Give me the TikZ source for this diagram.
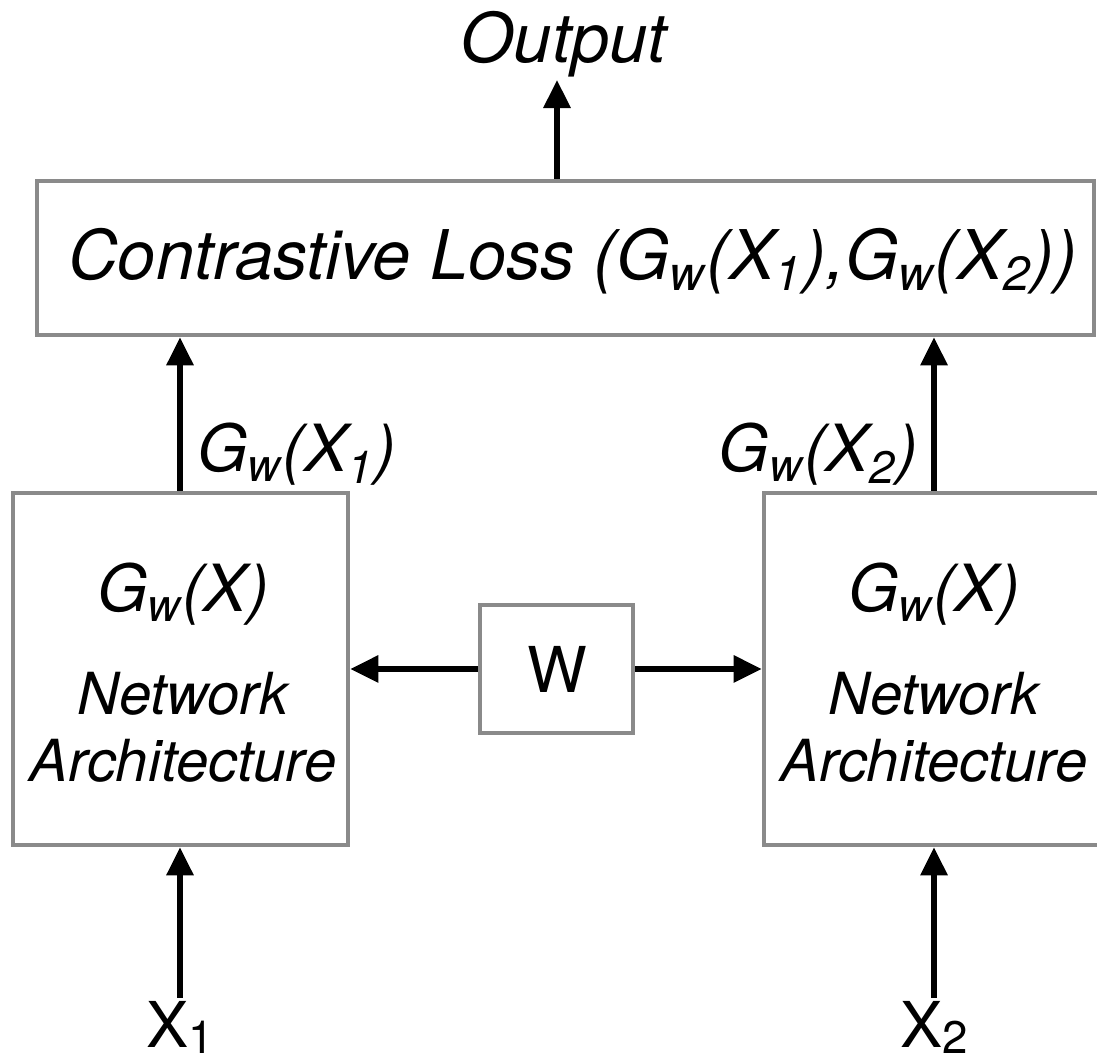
\documentclass[tikz,border=0pt]{standalone}
\usepackage{fontspec}
\setmainfont{TeX Gyre Heros}
\usetikzlibrary{positioning, calc, arrows.meta}

\newcommand{\gw}{\textit{G\textsubscript{w}}}
\newcommand{\lowsub}[1]{\raisebox{-0.08em}{\fontsize{13}{15}\selectfont #1}}

\begin{document}
\begin{tikzpicture}[
        box/.style={draw=boxgray, line width=1.3pt, inner sep=0pt},
        txtbig/.style={font=\fontsize{19.5}{23}\selectfont\itshape, inner sep=1pt, anchor=base},
        txtmid/.style={font=\fontsize{18.5}{22}\selectfont\itshape, inner sep=1pt, anchor=base},
        txtsmall/.style={font=\fontsize{16.5}{20}\selectfont\itshape, inner sep=1pt, anchor=base},
        txtup/.style={font=\fontsize{18}{22}\selectfont, inner sep=1pt, anchor=base},
        arr/.style={-{Triangle[width=7.5pt, length=8pt]}, line width=1.5pt, black}
    ]
        % Màu viền hộp
        \definecolor{boxgray}{RGB}{138, 138, 138}

        % Khung ảnh
        \useasboundingbox (0, 0) rectangle (10.97, 10.63);

        % Cột của các mũi tên dọc
        \coordinate (colL) at (1.80, 0);
        \coordinate (colR) at (9.34, 0);

        % 1. Hộp hàm mất mát và đầu ra
        \node[box, minimum width=10.57cm, minimum height=1.54cm] (loss) at (5.655, 8.05) {};
        \node[txtbig] (lossText) at (5.73, 7.83) {Contrastive Loss (\gw(X\textsubscript{1}),\gw(X\textsubscript{2}))};
        \node[txtbig] (out) at (5.635, 10.00) {Output};
        \coordinate (outTip) at (5.57, 9.83);

        % 2. Hai mạng dùng chung trọng số W
        \node[box, minimum width=3.35cm, minimum height=3.52cm] (netL) at (1.805, 3.94) {};
        \node[txtmid] (gL) at (1.83, 4.51) {\gw(X)};
        \node[txtsmall] (netTextL) at (1.83, 3.48) {Network};
        \node[txtsmall] (archL) at (1.83, 2.81) {Architecture};

        \node[box, minimum width=3.40cm, minimum height=3.52cm] (netR) at (9.34, 3.94) {};
        \node[txtmid] (gR) at (9.34, 4.51) {\gw(X)};
        \node[txtsmall] (netTextR) at (9.34, 3.48) {Network};
        \node[txtsmall] (archR) at (9.34, 2.81) {Architecture};

        \node[box, minimum width=1.53cm, minimum height=1.28cm] (w) at (5.565, 3.94) {};
        \node[txtup] (wText) at (5.57, 3.70) {W};

        % 3. Đầu vào
        \node[txtup] (x1) at (1.80, 0.15) {X\lowsub{1}};
        \node[txtup] (x2) at (9.34, 0.15) {X\lowsub{2}};

        % 4. Nhãn đầu ra của hai mạng
        \node[txtmid, anchor=base west] (g1) at (1.93, 5.91) {\gw(X\textsubscript{1})};
        \node[txtmid, anchor=base east] (g2) at (9.22, 5.91) {\gw(X\textsubscript{2})};

        % 5. Mũi tên
        \draw[arr] (loss.north -| outTip) -- (outTip);
        \draw[arr] (netL.north -| colL) -- (loss.south -| colL);
        \draw[arr] (netR.north -| colR) -- (loss.south -| colR);
        \draw[arr] (w.west) -- (netL.east |- w.west);
        \draw[arr] (w.east) -- (netR.west |- w.east);
        \draw[arr] (x1.north -| colL) -- (netL.south -| colL);
        \draw[arr] (x2.north -| colR) -- (netR.south -| colR);

    \end{tikzpicture}
\end{document}
